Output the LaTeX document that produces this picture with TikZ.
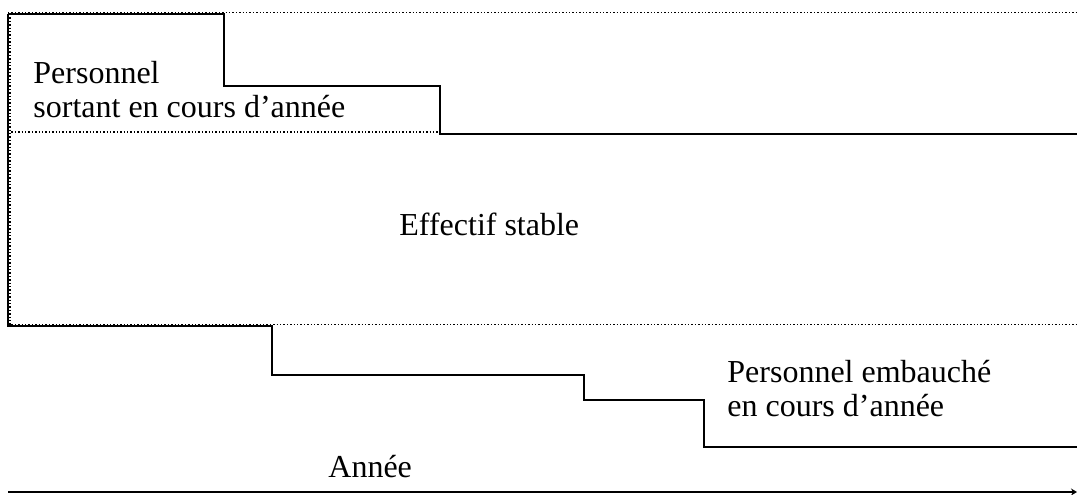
\documentclass[tikz,border=0pt]{standalone}
\usepackage{fontspec}
\setmainfont{Liberation Serif}
\usetikzlibrary{arrows.meta}

\begin{document}
\begin{tikzpicture}[x=.5pt,y=-.5pt,inner sep=0pt,
	trait/.style={line width=1.3pt},
	pointille/.style={line width=.7pt,dash pattern=on .7pt off 1pt},
	texte/.style={font=\fontsize{16}{17}\selectfont,align=left}]
\useasboundingbox (0,0) rectangle (1077,494);

%% "S" = sortants, "E" = embauches, "So" = sol (axe)
\coordinate (S0) at (8,14);
\coordinate (S1) at (224,14);
\coordinate (S2) at (224,86);
\coordinate (S3) at (440,86);
\coordinate (S4) at (440,134);
\coordinate (S5) at (1077,134);
\coordinate (E0) at (8,326);
\coordinate (E1) at (272,326);
\coordinate (E2) at (272,375);
\coordinate (E3) at (584,375);
\coordinate (E4) at (584,400);
\coordinate (E5) at (704,400);
\coordinate (E6) at (704,447);
\coordinate (E7) at (1077,447);
\coordinate (So) at (8,492);
\coordinate (Sf) at (1077,492);

\draw[pointille] (8,12.5)--(1077,12.5);
\draw[pointille] (8,132)--(440,132);
\draw[pointille] (8,324.5)--(1077,324.5);
\draw[pointille] (10,14)--(10,325);

\draw[trait] (S0)--(S1)--(S2)--(S3)--(S4)--(S5);
\draw[trait] (S0)--(E0)--(E1)--(E2)--(E3)--(E4)--(E5)--(E6)--(E7);
\draw[trait,-{Stealth[length=3pt,width=3.5pt]}] (So)--(Sf);

\node[texte,anchor=north west] (sortant) at (33,61) {Personnel\\sortant en cours d’année};
\node[texte,anchor=base west] (stable) at (399,235) {Effectif stable};
\node[texte,anchor=north west] (embauche) at (727,360) {Personnel embauché\\en cours d’année};
\node[texte,anchor=base west] (annee) at (328,477) {Année};
\end{tikzpicture}
\end{document}
